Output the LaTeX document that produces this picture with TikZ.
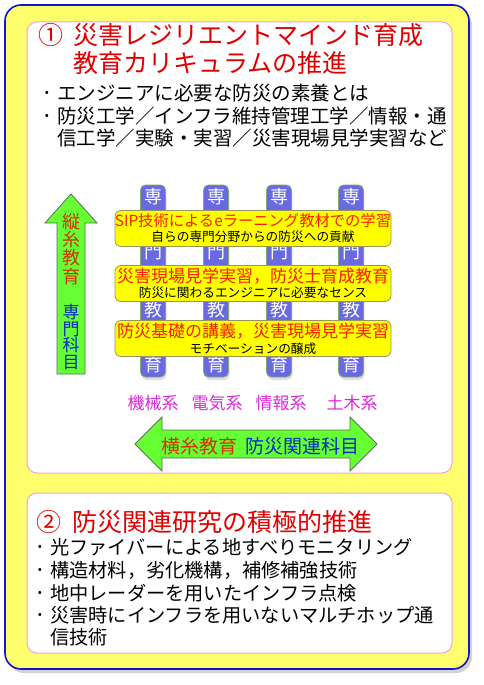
\documentclass[tikz,border=0pt]{standalone}
\usepackage{fontspec}
\newfontfamily\jp{Noto Sans CJK JP}
\usetikzlibrary{shadows}

\newcommand{\fsz}[2][0]{\fontsize{#2}{#2}\selectfont}
\newcommand{\fszb}[2]{\fontsize{#1}{#2}\selectfont}

\definecolor{outerblue}{RGB}{20,20,200}
\definecolor{outeryellow}{RGB}{255,255,110}
\definecolor{panelpink}{RGB}{240,160,225}
\definecolor{titlered}{RGB}{225,0,0}
\definecolor{barred}{RGB}{250,30,0}
\definecolor{baryellow}{RGB}{255,255,0}
\definecolor{barline}{RGB}{150,150,90}
\definecolor{colblue}{RGB}{105,105,225}
\definecolor{colline}{RGB}{130,170,110}
\definecolor{arrowgreen}{RGB}{102,255,51}
\definecolor{arrowline}{RGB}{90,110,90}
\definecolor{ropered}{RGB}{210,50,0}
\definecolor{subjblue}{RGB}{0,40,200}
\definecolor{deptmag}{RGB}{220,40,220}

\begin{document}
\begin{tikzpicture}[x=1pt, y=-1pt,
  every node/.style={font=\jp, inner sep=0pt},
  panel/.style={draw=panelpink, line width=1pt, fill=white, rounded corners=10pt},
  column/.style={draw=colline, fill=colblue, line width=0.8pt, rounded corners=5pt,
    minimum width=25pt, minimum height=192pt,
    drop shadow={shadow xshift=1pt, shadow yshift=-3pt, opacity=0.25}},
  colchar/.style={text=white, font=\jp\fsz{18}},
  bar/.style={draw=barline, fill=baryellow, line width=0.8pt, rounded corners=6pt,
    minimum width=276pt, minimum height=36pt},
  bartop/.style={text=barred, font=\jp\fsz{17}},
  barsub/.style={text=black, font=\jp\fsz{12.7}},
  dept/.style={text=deptmag, font=\jp\fsz{17}},
  arrowshape/.style={draw=arrowline, fill=arrowgreen, line width=0.8pt},
  title/.style={text=titlered, font=\jp\fsz{25}, anchor=west},
  item/.style={text=black, font=\jp\fsz{19.5}, anchor=west},
  dot/.style={text=black, font=\jp\fsz{12}}
]
\useasboundingbox (0,0) rectangle (484,685);

% frame and panels
\path[draw=outerblue, fill=outeryellow, line width=1.6pt, rounded corners=16pt,
  drop shadow={shadow xshift=3pt, shadow yshift=-4pt, opacity=0.35}]
  (5,5) rectangle (469,669);
\path[panel] (27,22) rectangle (452,473);
\path[panel] (27,493) rectangle (452,653);

% section 1 heading
\node[text=titlered, font=\jp\fsz{25}] (num1) at (51,35) {①};
\node[title] (t1a) at (73,35) {災害レジリエントマインド育成};
\node[title] (t1b) at (73,63) {教育カリキュラムの推進};
\node[dot] (d1a) at (47,94) {•};
\node[item] (i1a) at (57,93) {エンジニアに必要な防災の素養とは};
\node[dot] (d1b) at (47,117) {•};
\node[item] (i1b) at (57,116) {防災工学／インフラ維持管理工学／情報・通};
\node[item] (i1c) at (57,138) {信工学／実験・実習／災害現場見学実習など};

% vertical columns
\foreach \cx [count=\i] in {153,216,279,351} {
  \node[column] (col\i) at (\cx,281) {};
  \foreach \ch/\cy [count=\j] in {専/197,門/252,教/310,育/365}
    \node[colchar] (ch\i\j) at (\cx,\cy) {\ch};
}

% cross bars
\node[bar] (bar1) at (253,228.5) {};
\node[bartop, font=\jp\fsz{15.3}] (bar1top) at (253,221) {SIP技術によるeラーニング教材での学習};
\node[barsub] (bar1sub) at (253,237) {自らの専門分野からの防災への貢献};
\node[bar] (bar2) at (253,283.5) {};
\node[bartop] (bar2top) at (253,276) {災害現場見学実習，防災士育成教育};
\node[barsub] (bar2sub) at (253,293) {防災に関わるエンジニアに必要なセンス};
\node[bar] (bar3) at (253,338.5) {};
\node[bartop] (bar3top) at (253,331) {防災基礎の講義，災害現場見学実習};
\node[barsub] (bar3sub) at (253,349) {モチベーションの醸成};

% departments
\node[dept] (mech) at (153,403) {機械系};
\node[dept] (elec) at (217,403) {電気系};
\node[dept] (info) at (281,403) {情報系};
\node[dept] (civil) at (352,403) {土木系};

% vertical arrow
\draw[arrowshape] (57,374) -- (57,223) -- (45,223) -- (71,194) -- (97,223)
  -- (85,223) -- (85,374) -- cycle;
\node[text=ropered, align=center, font=\jp\fszb{18}{18.3}] (tate) at (71,249) {縦\\糸\\教\\育};
\node[text=subjblue, align=center, font=\jp\fszb{17}{16.6}] (senmon) at (71,337) {専\\門\\科\\目};

% horizontal arrow
\draw[arrowshape] (135,444) -- (162,417) -- (162,430) -- (350,430) -- (350,417)
  -- (377,444) -- (350,471) -- (350,458) -- (162,458) -- (162,471) -- cycle;
\node[text=ropered, font=\jp\fsz{19}] (yoko) at (199,446) {横糸教育};
\node[text=subjblue, font=\jp\fsz{19}] (kanren) at (302,446) {防災関連科目};

% section 2 heading
\node[text=titlered, font=\jp\fsz{25}] (num2) at (49,522) {②};
\node[title] (t2) at (72,522) {防災関連研究の積極的推進};
\node[dot] (d2a) at (40,548) {•};
\node[item, font=\jp\fsz{19.2}] (i2a) at (50,547) {光ファイバーによる地すべりモニタリング};
\node[dot] (d2b) at (40,571) {•};
\node[item, font=\jp\fsz{19.2}] (i2b) at (50,570) {構造材料，劣化機構，補修補強技術};
\node[dot] (d2c) at (40,594) {•};
\node[item, font=\jp\fsz{19.2}] (i2c) at (50,593) {地中レーダーを用いたインフラ点検};
\node[dot] (d2d) at (40,616) {•};
\node[item, font=\jp\fsz{19.2}] (i2d) at (50,615) {災害時にインフラを用いないマルチホップ通};
\node[item, font=\jp\fsz{19.2}] (i2e) at (50,637) {信技術};
\end{tikzpicture}
\end{document}
